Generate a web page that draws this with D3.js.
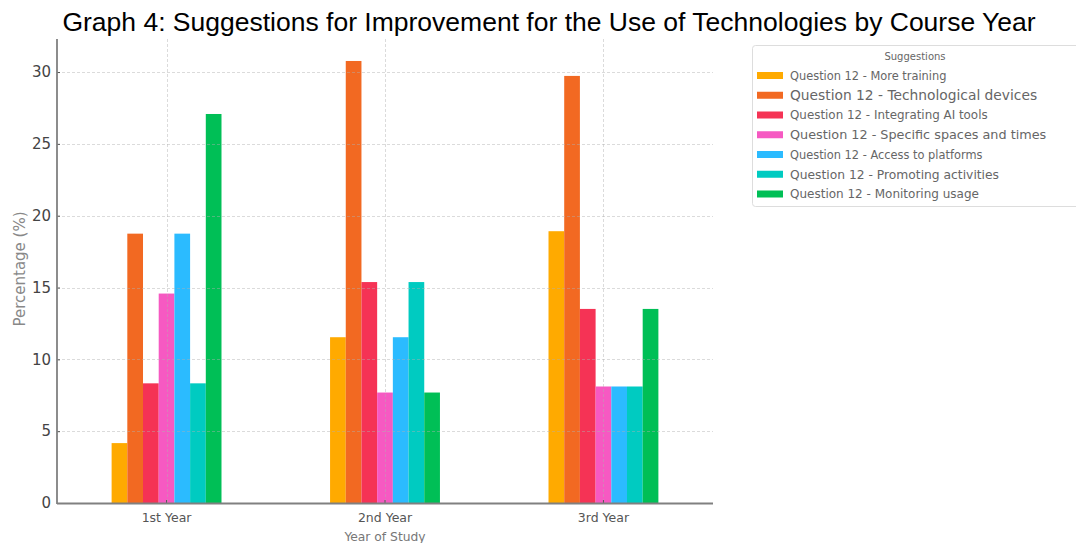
<!DOCTYPE html>
<html>
<head>
<meta charset="utf-8">
<script src="https://cdn.jsdelivr.net/npm/d3@7"></script>
<style>
  html, body { margin: 0; padding: 0; background: #fff; }
  svg { display: block; }
</style>
</head>
<body>
<svg id="chart" width="1076" height="543"></svg>
<script>
// Course years on the x axis
const years = ["1st Year", "2nd Year", "3rd Year"];

// Suggestion series (legend labels)
const suggestions = [
  "Question 12 - More training",
  "Question 12 - Technological devices",
  "Question 12 - Integrating AI tools",
  "Question 12 - Specific spaces and times",
  "Question 12 - Access to platforms",
  "Question 12 - Promoting activities",
  "Question 12 - Monitoring usage"
];

// Percentage per suggestion, one value per course year
const moreTraining        = [4.17, 11.54, 18.92];
const techDevices         = [18.75, 30.77, 29.73];
const aiTools             = [8.33, 15.38, 13.51];
const spacesAndTimes      = [14.58, 7.69, 8.11];
const accessPlatforms     = [18.75, 11.54, 8.11];
const promotingActivities = [8.33, 15.38, 8.11];
const monitoringUsage     = [27.08, 7.69, 13.51];

const yTicks = [0, 5, 10, 15, 20, 25, 30];

const seriesValues = [moreTraining, techDevices, aiTools, spacesAndTimes,
                      accessPlatforms, promotingActivities, monitoringUsage];

const colors = ["#FFAA00", "#F26922", "#F53355", "#F659C2", "#2BBBFF", "#00CBC1", "#00BF56"];
const legendFontSizes = [11.4, 13.8, 11.9, 12.8, 11.4, 12.3, 12.0];

const svg = d3.select("#chart");
const plot = { left: 57, right: 713, top: 39, bottom: 503 };

// Title
svg.append("text")
  .attr("x", 549).attr("y", 31)
  .attr("text-anchor", "middle")
  .attr("font-family", "Liberation Sans, Arial, sans-serif")
  .attr("font-size", 26.5)
  .attr("fill", "#000")
  .text("Graph 4: Suggestions for Improvement for the Use of Technologies by Course Year");

const x0 = d3.scaleBand()
  .domain(years)
  .range([plot.left, plot.right])
  .paddingInner(0.497)
  .paddingOuter(0.25);

const x1 = d3.scaleBand()
  .domain(d3.range(suggestions.length))
  .range([0, x0.bandwidth()])
  .padding(0);

const y = d3.scaleLinear()
  .domain([0, 32.3])
  .range([plot.bottom, plot.top]);

// Bars
const groups = svg.append("g").selectAll("g")
  .data(years)
  .join("g")
  .attr("transform", d => `translate(${x0(d)},0)`);

groups.selectAll("rect")
  .data((d, i) => seriesValues.map((vals, s) => ({ s, v: vals[i] })))
  .join("rect")
  .attr("x", d => x1(d.s))
  .attr("width", x1.bandwidth())
  .attr("y", d => y(d.v))
  .attr("height", d => y(0) - y(d.v))
  .attr("fill", d => colors[d.s]);

// Dashed grid, drawn faintly over the bars
const grid = svg.append("g")
  .attr("stroke", "rgba(175,175,175,0.45)")
  .attr("stroke-width", 1)
  .attr("stroke-dasharray", "3,2");

grid.selectAll("line.h")
  .data(yTicks.filter(t => t > 0))
  .join("line")
  .attr("x1", plot.left).attr("x2", plot.right)
  .attr("y1", d => Math.round(y(d)) + 0.5).attr("y2", d => Math.round(y(d)) + 0.5);

grid.selectAll("line.v")
  .data(years)
  .join("line")
  .attr("x1", d => Math.round(x0(d) + x0.bandwidth() / 2) + 0.5)
  .attr("x2", d => Math.round(x0(d) + x0.bandwidth() / 2) + 0.5)
  .attr("y1", plot.top).attr("y2", plot.bottom);

// Axes
const yAxis = d3.axisLeft(y).tickValues(yTicks).tickSize(-3).tickPadding(6);
const yg = svg.append("g").attr("transform", `translate(${plot.left},0)`).call(yAxis);
yg.select(".domain").remove();
yg.selectAll(".tick line").attr("stroke", "#555");
yg.selectAll(".tick text")
  .attr("font-family", "DejaVu Sans, sans-serif")
  .attr("font-size", 15)
  .attr("fill", "#444");

const xAxis = d3.axisBottom(x0).tickSize(-3).tickPadding(10);
const xg = svg.append("g").attr("transform", `translate(0,${plot.bottom})`).call(xAxis);
xg.select(".domain").remove();
xg.selectAll(".tick line").attr("stroke", "#555");
xg.selectAll(".tick text")
  .attr("font-family", "DejaVu Sans, sans-serif")
  .attr("font-size", 12.5)
  .attr("fill", "#555");

// Spines (left and bottom only)
svg.append("line")
  .attr("x1", plot.left).attr("x2", plot.left)
  .attr("y1", plot.top).attr("y2", plot.bottom + 1)
  .attr("stroke", "#808080").attr("stroke-width", 1.8);
svg.append("line")
  .attr("x1", plot.left).attr("x2", plot.right)
  .attr("y1", plot.bottom + 0.5).attr("y2", plot.bottom + 0.5)
  .attr("stroke", "#808080").attr("stroke-width", 1.8);

// Axis labels
svg.append("text")
  .attr("x", 385).attr("y", 541)
  .attr("text-anchor", "middle")
  .attr("font-family", "DejaVu Sans, sans-serif")
  .attr("font-size", 12.3)
  .attr("fill", "#777")
  .text("Year of Study");

svg.append("text")
  .attr("transform", "translate(25,269) rotate(-90)")
  .attr("text-anchor", "middle")
  .attr("font-family", "DejaVu Sans, sans-serif")
  .attr("font-size", 15)
  .attr("fill", "#888")
  .text("Percentage (%)");

// Legend
const legend = svg.append("g");
legend.append("rect")
  .attr("x", 752.5).attr("y", 45.5)
  .attr("width", 340).attr("height", 161)
  .attr("rx", 3)
  .attr("fill", "#fff")
  .attr("stroke", "#ddd");

legend.append("text")
  .attr("x", 915).attr("y", 59.5)
  .attr("text-anchor", "middle")
  .attr("font-family", "DejaVu Sans, sans-serif")
  .attr("font-size", 10)
  .attr("fill", "#666")
  .text("Suggestions");

const rowY = d3.scalePoint().domain(d3.range(suggestions.length)).range([75.5, 194]);

const rows = legend.selectAll("g.row")
  .data(suggestions)
  .join("g")
  .attr("transform", (d, i) => `translate(0,${rowY(i)})`);

rows.append("rect")
  .attr("x", 757).attr("y", -3.5)
  .attr("width", 26).attr("height", 7)
  .attr("fill", (d, i) => colors[i]);

rows.append("text")
  .attr("x", 790).attr("y", 0)
  .attr("dy", "0.36em")
  .attr("font-family", "DejaVu Sans, sans-serif")
  .attr("font-size", (d, i) => legendFontSizes[i])
  .attr("fill", "#666")
  .text(d => d);
</script>
</body>
</html>
